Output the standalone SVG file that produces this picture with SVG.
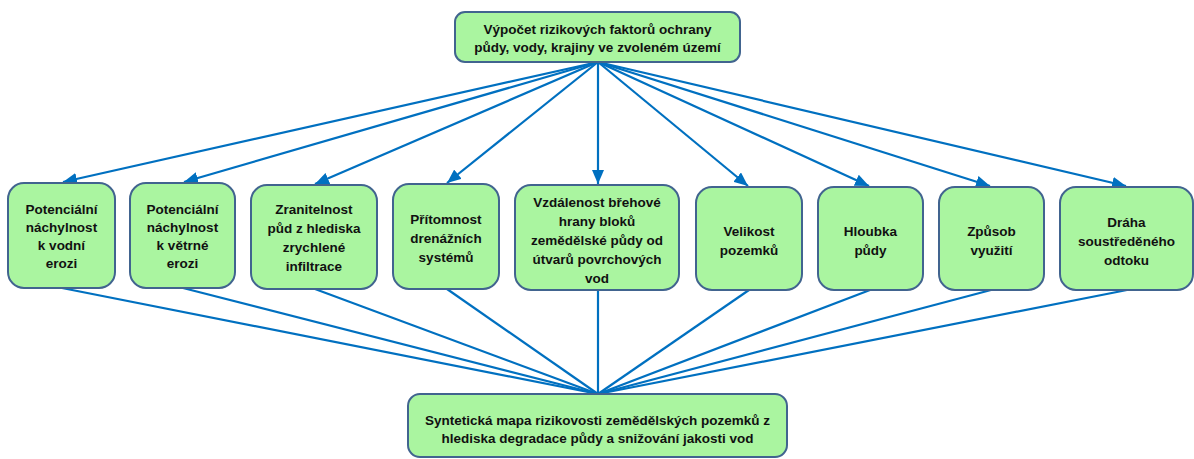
<svg xmlns="http://www.w3.org/2000/svg" width="1194" height="459" viewBox="0 0 1194 459">
<style>
.box{fill:#aaf5a0;stroke:#41648f;stroke-width:2}
.t{font-family:"Liberation Sans",Arial,sans-serif;font-weight:bold;font-size:13.5px;fill:#111;text-anchor:middle}
.c{stroke:#0070c0;stroke-width:2.2;fill:none}
</style>
<defs>
<marker id="ah" markerUnits="userSpaceOnUse" markerWidth="15" markerHeight="12" refX="14" refY="6" orient="auto">
<path d="M0,0 L14,6 L0,12 Z" fill="#0070c0"/>
</marker>
</defs>
<rect width="1194" height="459" fill="#fff"/>
<g id="connectors">
<line class="c" x1="598" y1="62" x2="63" y2="182" marker-end="url(#ah)"/>
<line class="c" x1="598" y1="62" x2="184" y2="182" marker-end="url(#ah)"/>
<line class="c" x1="598" y1="62" x2="315" y2="184" marker-end="url(#ah)"/>
<line class="c" x1="598" y1="62" x2="447" y2="183" marker-end="url(#ah)"/>
<line class="c" x1="598" y1="62" x2="598" y2="184" marker-end="url(#ah)"/>
<line class="c" x1="598" y1="62" x2="748" y2="186" marker-end="url(#ah)"/>
<line class="c" x1="598" y1="62" x2="869" y2="186" marker-end="url(#ah)"/>
<line class="c" x1="598" y1="62" x2="990" y2="186" marker-end="url(#ah)"/>
<line class="c" x1="598" y1="62" x2="1126" y2="186" marker-end="url(#ah)"/>
<line class="c" x1="62" y1="288" x2="598" y2="394"/>
<line class="c" x1="183" y1="288" x2="598" y2="394"/>
<line class="c" x1="315" y1="289" x2="598" y2="394"/>
<line class="c" x1="447" y1="289" x2="598" y2="394"/>
<line class="c" x1="598" y1="290" x2="598" y2="394"/>
<line class="c" x1="749" y1="290" x2="598" y2="394"/>
<line class="c" x1="870" y1="290" x2="598" y2="394"/>
<line class="c" x1="991" y1="290" x2="598" y2="394"/>
<line class="c" x1="1127" y1="290" x2="598" y2="394"/>
</g>
<g id="top">
<rect class="box" x="455" y="12" width="285" height="50" rx="10"/>
<text class="t" x="597.5" y="34">Výpočet rizikových faktorů ochrany</text>
<text class="t" x="597.5" y="52">půdy, vody, krajiny ve zvoleném území</text>
</g>
<g id="n1">
<rect class="box" x="8" y="183" width="107" height="105" rx="16"/>
<text class="t" x="61.5" y="214">Potenciální</text>
<text class="t" x="61.5" y="232">náchylnost</text>
<text class="t" x="61.5" y="250">k vodní</text>
<text class="t" x="61.5" y="268">erozi</text>
</g>
<g id="n2">
<rect class="box" x="130" y="183" width="105" height="105" rx="16"/>
<text class="t" x="182.5" y="214">Potenciální</text>
<text class="t" x="182.5" y="232">náchylnost</text>
<text class="t" x="182.5" y="250">k větrné</text>
<text class="t" x="182.5" y="268">erozi</text>
</g>
<g id="n3">
<rect class="box" x="251" y="185" width="126" height="104" rx="16"/>
<text class="t" x="314" y="214">Zranitelnost</text>
<text class="t" x="314" y="233">půd z hlediska</text>
<text class="t" x="314" y="252">zrychlené</text>
<text class="t" x="314" y="271">infiltrace</text>
</g>
<g id="n4">
<rect class="box" x="393" y="184" width="106" height="105" rx="16"/>
<text class="t" x="446" y="224">Přítomnost</text>
<text class="t" x="446" y="243">drenážních</text>
<text class="t" x="446" y="262">systémů</text>
</g>
<g id="n5">
<rect class="box" x="515" y="185" width="164" height="105" rx="16"/>
<text class="t" x="597" y="207">Vzdálenost břehové</text>
<text class="t" x="597" y="226">hrany bloků</text>
<text class="t" x="597" y="245">zemědělské půdy od</text>
<text class="t" x="597" y="264">útvarů povrchových</text>
<text class="t" x="597" y="283">vod</text>
</g>
<g id="n6">
<rect class="box" x="696" y="187" width="106" height="103" rx="16"/>
<text class="t" x="749" y="236">Velikost</text>
<text class="t" x="749" y="255">pozemků</text>
</g>
<g id="n7">
<rect class="box" x="818" y="187" width="105" height="103" rx="16"/>
<text class="t" x="870.5" y="236">Hloubka</text>
<text class="t" x="870.5" y="255">půdy</text>
</g>
<g id="n8">
<rect class="box" x="939" y="187" width="105" height="103" rx="16"/>
<text class="t" x="991.5" y="236">Způsob</text>
<text class="t" x="991.5" y="255">využití</text>
</g>
<g id="n9">
<rect class="box" x="1060" y="187" width="133" height="103" rx="16"/>
<text class="t" x="1126.5" y="227">Dráha</text>
<text class="t" x="1126.5" y="246">soustředěného</text>
<text class="t" x="1126.5" y="265">odtoku</text>
</g>
<g id="bottom">
<rect class="box" x="408" y="394" width="379" height="63" rx="12"/>
<text class="t" x="597.5" y="425">Syntetická mapa rizikovosti zemědělských pozemků z</text>
<text class="t" x="597.5" y="443">hlediska degradace půdy a snižování jakosti vod</text>
</g>
</svg>
